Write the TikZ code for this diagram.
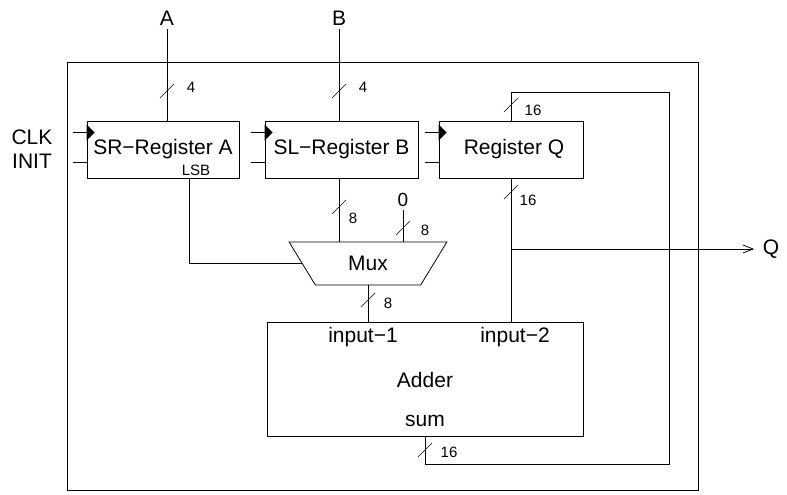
\documentclass[tikz,border=0pt]{standalone}
\usepackage{fontspec}
\setmainfont{Liberation Sans}
\usetikzlibrary{shapes.geometric,arrows.meta}

\begin{document}
\begin{tikzpicture}[x=1pt,y=-1pt,line width=0.8pt,
        every node/.style={font=\fontsize{21}{24}\selectfont},
        reg/.style={draw,rectangle,minimum height=57pt,inner sep=0pt},
        small/.style={font=\fontsize{15}{17}\selectfont},
        bus/.style={line width=0.6pt}]
                \useasboundingbox (0,0) rectangle (787,495);
                \draw (67,62) rectangle (698,490);
                \node[reg,minimum width=152pt] (regA) at (163,149.5) {SR−Register A};
                \node[reg,minimum width=153pt] (regB) at (341.5,149.5) {SL−Register B};
                \node[reg,minimum width=144pt] (regQ) at (511,149.5) {\hspace*{6pt}Register Q};
                \node[font=\fontsize{15}{17}\selectfont] (lsb) at (196,170) {LSB};
                \node[draw,trapezium,shape border rotate=180,trapezium stretches=true,minimum width=158pt,minimum height=43pt,trapezium angle=56,inner sep=0pt] (mux) at (368,263.5) {Mux};
                \node[draw,minimum width=316pt,minimum height=114pt] (adder) at (425,379) {};
                \node (in1) at (363,337) {input−1};
                \node (in2) at (515,337) {input−2};
                \node (add) at (425,380) {Adder};
                \node (sum) at (425,421) {sum};
                \node (lblA) at (167,18) {A};
                \node (lblB) at (339,18) {B};
                \node[font=\fontsize{19}{22}\selectfont] (zero) at (403,200) {0};
                \node (qout) at (771,249) {Q};
                \node (clk) at (32,137) {CLK};
                \node (init) at (32,161) {INIT};
                \foreach \r in {regA,regB,regQ} {
                    \draw ([yshift=-12pt]\r.north west) -- ++(-14,0);
                    \draw ([yshift=-42pt]\r.north west) -- ++(-14,0);
                    \fill ([yshift=-4pt]\r.north west) -- ++(8,8) -- ++(-8,8) -- cycle;
                }
                \draw (lblA) -- (lblA |- regA.north);
                \draw (lblB) -- (lblB |- regB.north);
                \draw (lblB |- regB.south) -- (lblB |- mux.north);
                \draw (zero) -- (zero |- mux.north);
                \draw (mux.south) -- (mux.south |- adder.north);
                \draw ([xshift=26pt]regA.south) |- (mux.west);
                \draw (regQ.south) -- (regQ.south |- adder.north);
                \coordinate (br) at (regQ.south |- qout);
                \draw[-{Straight Barb[length=10pt,width=8pt]},shorten >=5pt] (br) -- (qout.west);
                \draw (adder.south) -- ++(0,28) -| (669,92) -| (regQ.north);
                \foreach \cx/\cy/\w/\lx/\ly [count=\i] in {167/91/4/191/87, 339/91/4/363/87, 339/207/8/353/218, 403/228/8/425/230, 368/300/8/388/303, 511/192/16/528/200, 511/105/16/533/110, 425/450/16/449/452} {
                    \draw[bus] (\cx-7,\cy+7) -- (\cx+7,\cy-7);
                    \node[small] (w\i) at (\lx,\ly) {\w};
                }
\end{tikzpicture}
\end{document}
